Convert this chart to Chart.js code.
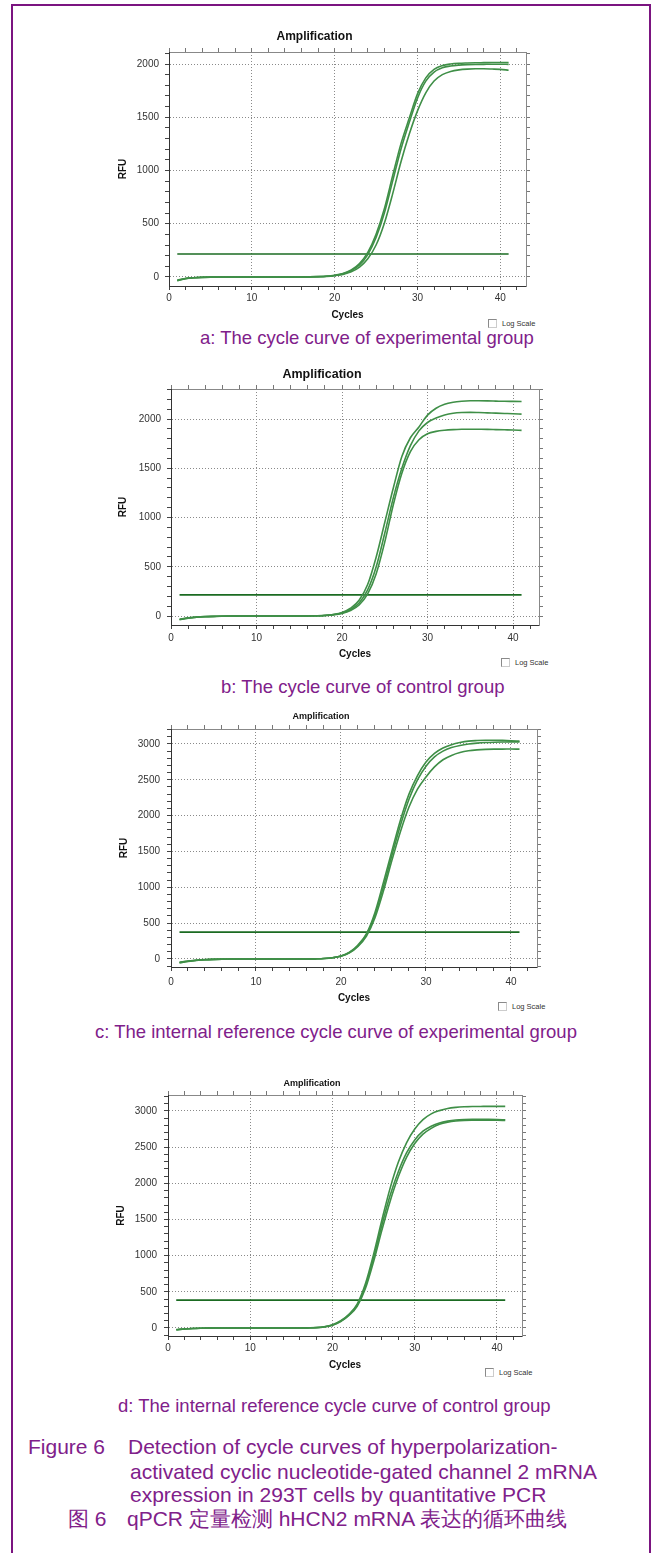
<!DOCTYPE html>
<html>
<head>
<meta charset="utf-8">
<script src="https://cdn.jsdelivr.net/npm/chart.js@4.4.0/dist/chart.umd.min.js"></script>
<style>
  html, body { margin: 0; padding: 0; background: #fff; }
  body { position: relative; width: 651px; height: 1553px; overflow: hidden; font-family: "Liberation Sans", Arial, sans-serif; }
  .frame { position: absolute; left: 11px; top: 4px; width: 636px; height: 1570px; border: 2px solid #7b1480; border-bottom: none; }
  canvas { position: absolute; }
  .cap { position: absolute; white-space: nowrap; color: #80208a; font-size: 18.5px; line-height: 22px; }
  .fig { position: absolute; white-space: nowrap; color: #80208a; font-size: 21px; line-height: 24px; }
  .log { position: absolute; white-space: nowrap; color: #333; font-size: 7.5px; line-height: 9px; }
  .log i { display: inline-block; width: 7px; height: 7px; border: 1px solid #8a8a8a; border-right-color: #ccc; border-bottom-color: #ccc; vertical-align: top; margin-right: 5px; }
</style>
</head>
<body>
<div class="frame"></div>

<div class="cap" style="left:200px; top:327px;">a: The cycle curve of experimental group</div>
<div class="cap" style="left:221px; top:676px;">b: The cycle curve of control group</div>
<div class="cap" style="left:95px; top:1021px;">c: The internal reference cycle curve of experimental group</div>
<div class="cap" style="left:118px; top:1395px;">d: The internal reference cycle curve of control group</div>

<div class="log" style="left:488px; top:319px;"><i></i>Log Scale</div>
<div class="log" style="left:501px; top:658px;"><i></i>Log Scale</div>
<div class="log" style="left:498px; top:1002px;"><i></i>Log Scale</div>
<div class="log" style="left:485px; top:1368px;"><i></i>Log Scale</div>

<div class="fig" style="left:28px; top:1435px;">Figure 6</div>
<div class="fig" style="left:128px; top:1435px;">Detection of cycle curves of hyperpolarization-</div>
<div class="fig" style="left:130px; top:1460px;">activated cyclic nucleotide-gated channel 2 mRNA</div>
<div class="fig" style="left:130px; top:1483px;">expression in 293T cells by quantitative PCR</div>
<div class="fig" style="left:68px; top:1507px;">图 6</div>
<div class="fig" style="left:127px; top:1507px;">qPCR 定量检测 hHCN2 mRNA 表达的循环曲线</div>

<script>
// cycle numbers (x axis)
const cycles = [1, 2, 3, 4, 5, 6, 7, 8, 9, 10, 11, 12, 13, 14, 15, 16, 17, 18, 19, 20,
    21, 22, 23, 24, 25, 26, 27, 28, 29, 30, 31, 32, 33, 34, 35, 36, 37, 38, 39, 40, 41];

// labelled ticks
const cycleLabels = [0, 10, 20, 30, 40];
const rfuLabels = [0, 500, 1000, 1500, 2000, 2500, 3000];

// a: experimental group (RFU)
const expA1 = [-35, -16, -8, -4, -2, -1, 0, 0, 0, 0, 0, 0, 0, 0, 0, 0, 1, 3, 7, 16,
    32, 65, 125, 230, 400, 640, 950, 1250, 1490, 1720, 1870, 1950, 1985, 2000, 2007, 2010, 2012, 2013, 2014, 2015, 2015];
const expA2 = [-33, -15, -7, -4, -2, -1, 0, 0, 0, 0, 0, 0, 0, 0, 0, 0, 1, 3, 6, 14,
    29, 58, 112, 210, 370, 600, 900, 1200, 1450, 1680, 1840, 1925, 1965, 1982, 1990, 1994, 1996, 1997, 1998, 1998, 1997];
const expA3 = [-30, -14, -7, -3, -1, 0, 0, 0, 0, 0, 0, 0, 0, 0, 0, 0, 1, 2, 5, 12,
    24, 48, 92, 170, 300, 505, 780, 1080, 1340, 1560, 1730, 1840, 1900, 1930, 1945, 1952, 1955, 1955, 1953, 1950, 1942];
const thresholdA = 215;

// b: control group (RFU)
const ctrlB1 = [-38, -22, -12, -7, -4, -2, -1, 0, 0, 0, 0, 0, 0, 0, 0, 1, 3, 7, 16, 36,
    80, 160, 320, 600, 950, 1300, 1620, 1810, 1920, 2040, 2110, 2150, 2170, 2180, 2185, 2185, 2184, 2182, 2180, 2179, 2178];
const ctrlB2 = [-35, -20, -11, -6, -3, -2, -1, 0, 0, 0, 0, 0, 0, 0, 0, 1, 3, 6, 14, 30,
    66, 132, 265, 500, 840, 1200, 1500, 1730, 1880, 1965, 2010, 2040, 2058, 2066, 2068, 2066, 2063, 2060, 2057, 2054, 2050];
const ctrlB3 = [-33, -18, -10, -5, -3, -1, 0, 0, 0, 0, 0, 0, 0, 0, 0, 1, 2, 5, 12, 26,
    56, 112, 225, 430, 750, 1130, 1450, 1670, 1790, 1850, 1875, 1887, 1893, 1896, 1897, 1896, 1895, 1893, 1891, 1889, 1885];
const thresholdB = 215;

// c: internal reference, experimental group (RFU)
const refExpC1 = [-55, -35, -20, -11, -6, -3, -1, 0, 0, 0, 0, 0, 0, 0, 0, 0, 2, 7, 18, 42,
    95, 195, 355, 650, 1070, 1510, 1940, 2300, 2560, 2750, 2870, 2945, 2990, 3020, 3040, 3048, 3052, 3052, 3050, 3046, 3040];
const refExpC2 = [-50, -32, -18, -10, -5, -2, -1, 0, 0, 0, 0, 0, 0, 0, 0, 0, 2, 6, 17, 40,
    90, 185, 340, 615, 1010, 1450, 1870, 2230, 2500, 2690, 2820, 2900, 2950, 2980, 3000, 3012, 3020, 3025, 3028, 3030, 3030];
const refExpC3 = [-46, -30, -17, -9, -5, -2, -1, 0, 0, 0, 0, 0, 0, 0, 0, 0, 2, 6, 16, 38,
    85, 175, 320, 575, 950, 1380, 1780, 2120, 2370, 2540, 2680, 2780, 2840, 2880, 2905, 2918, 2925, 2928, 2928, 2930, 2928];
const thresholdC = 375;

// d: internal reference, control group (RFU)
const refCtrlD1 = [-25, -15, -8, -4, -2, -1, 0, 0, 0, 0, 0, 0, 0, 0, 0, 0, 2, 6, 18, 45,
    100, 190, 330, 610, 1020, 1490, 1930, 2290, 2560, 2750, 2880, 2960, 3005, 3035, 3050, 3058, 3062, 3063, 3064, 3064, 3064];
const refCtrlD2 = [-24, -14, -7, -4, -2, -1, 0, 0, 0, 0, 0, 0, 0, 0, 0, 0, 2, 5, 16, 42,
    95, 182, 315, 580, 970, 1420, 1830, 2160, 2420, 2600, 2720, 2790, 2835, 2860, 2875, 2882, 2885, 2886, 2885, 2882, 2878];
const refCtrlD3 = [-22, -13, -7, -3, -2, -1, 0, 0, 0, 0, 0, 0, 0, 0, 0, 0, 1, 4, 14, 38,
    88, 172, 300, 545, 920, 1350, 1750, 2090, 2360, 2550, 2680, 2760, 2815, 2845, 2862, 2870, 2873, 2874, 2873, 2872, 2870];
const thresholdD = 385;

// layout of each panel on the page (plot box in page pixels)
const panels = [
    { plot: { l: 169, t: 52, r: 526, b: 286 }, titleY: 37, titleSize: 12, cyclesY: 315, rfuX: 123, xLabelY: 298, yLabelRight: 159,
      yMin: -85, yMax: 2113, xMax: 43.1, curves: [expA1, expA2, expA3], threshold: thresholdA },
    { plot: { l: 171, t: 389, r: 539, b: 625 }, titleY: 375, titleSize: 12.5, cyclesY: 654, rfuX: 123, xLabelY: 638, yLabelRight: 161,
      yMin: -91, yMax: 2305, xMax: 43.04, curves: [ctrlB1, ctrlB2, ctrlB3], threshold: thresholdB },
    { plot: { l: 171, t: 729, r: 537, b: 967 }, titleY: 717, titleSize: 9, cyclesY: 998, rfuX: 124, xLabelY: 982, yLabelRight: 160,
      yMin: -112, yMax: 3209, xMax: 43.06, curves: [refExpC1, refExpC2, refExpC3], threshold: thresholdC },
    { plot: { l: 168, t: 1095, r: 522, b: 1336 }, titleY: 1084, titleSize: 9, cyclesY: 1365, rfuX: 121, xLabelY: 1348, yLabelRight: 157,
      yMin: -111, yMax: 3221, xMax: 43.04, curves: [refCtrlD1, refCtrlD2, refCtrlD3], threshold: thresholdD }
];

const LEFT = 70, TOP = 32, BOTTOM = 38, RIGHT = 4, TICK = 4;
const X_MINOR = 2, Y_MINOR = 100;

Chart.defaults.font.family = '"Liberation Sans", Arial, sans-serif';

// minor ticks every `step`, labels only where the picture has them
function marcarTicks(step) {
    return function (scale) {
        const ticks = [];
        for (let v = Math.ceil(scale.min / step) * step; v <= scale.max; v += step) {
            ticks.push({ value: v });
        }
        scale.ticks = ticks;
    };
}

function dibujarPanel(p) {
    const canvas = document.createElement('canvas');
    const w = (p.plot.r - p.plot.l) + LEFT + RIGHT;
    const h = (p.plot.b - p.plot.t) + TOP + BOTTOM;
    const left = p.plot.l - LEFT;
    const top = p.plot.t - TOP;
    canvas.width = w;
    canvas.height = h;
    canvas.style.left = left + 'px';
    canvas.style.top = top + 'px';
    document.body.appendChild(canvas);

    // paddings so the texts land where they are in the picture
    const titleLh = p.titleSize * 1.2;
    const titleTop = (p.titleY - top) - titleLh / 2;
    const titleBottom = (TOP - TICK) - titleLh - titleTop;
    const cyclesPad = BOTTOM - 6 - (p.cyclesY - p.plot.b);
    const rfuPad = (p.rfuX - left) - 6;
    const xTickPad = (p.xLabelY - p.plot.b) - TICK - 6;
    const yTickPad = (p.plot.l - p.yLabelRight) - TICK;

    const datasets = p.curves.map(vals => ({
        data: cycles.map((c, i) => ({ x: c, y: vals[i] })),
        borderColor: '#3f8f47',
        borderWidth: 1.6,
        pointRadius: 0,
        cubicInterpolationMode: 'monotone',
        xAxisID: 'x',
        yAxisID: 'y'
    }));
    datasets.push({
        data: [{ x: cycles[0], y: p.threshold }, { x: cycles[cycles.length - 1], y: p.threshold }],
        borderColor: '#1b6b22',
        borderWidth: 1.6,
        pointRadius: 0,
        xAxisID: 'x',
        yAxisID: 'y'
    });

    new Chart(canvas, {
        type: 'line',
        data: { datasets: datasets },
        options: {
            responsive: false,
            animation: false,
            events: [],
            layout: { padding: 0 },
            plugins: {
                legend: { display: false },
                tooltip: { enabled: false },
                title: {
                    display: true,
                    text: 'Amplification',
                    color: '#111',
                    font: { size: p.titleSize, weight: 'bold' },
                    padding: { top: titleTop, bottom: titleBottom }
                }
            },
            scales: {
                x: {
                    type: 'linear', position: 'bottom', min: 0, max: p.xMax,
                    afterFit: s => { s.height = BOTTOM; },
                    afterBuildTicks: marcarTicks(X_MINOR),
                    ticks: {
                        autoSkip: false, maxRotation: 0,
                        padding: xTickPad, color: '#333', font: { size: 10 },
                        callback: v => (cycleLabels.includes(v) ? v : '')
                    },
                    grid: {
                        color: c => (c.tick && cycleLabels.includes(c.tick.value) ? '#8a8a8a' : 'transparent'),
                        tickColor: '#444', tickLength: TICK
                    },
                    border: { color: '#333', width: 1, dash: [1, 2] },
                    title: { display: true, text: 'Cycles', color: '#111', font: { size: 10, weight: 'bold' }, padding: { top: 0, bottom: cyclesPad } }
                },
                x2: {
                    type: 'linear', position: 'top', min: 0, max: p.xMax,
                    afterFit: s => { s.height = TICK; },
                    afterBuildTicks: marcarTicks(X_MINOR),
                    ticks: { display: false, autoSkip: false },
                    grid: { drawOnChartArea: false, tickColor: '#777', tickLength: TICK },
                    border: { color: '#888' }
                },
                y: {
                    type: 'linear', position: 'left', min: p.yMin, max: p.yMax,
                    afterFit: s => { s.width = LEFT; },
                    afterBuildTicks: marcarTicks(Y_MINOR),
                    ticks: {
                        autoSkip: false,
                        padding: yTickPad, color: '#333', font: { size: 10 },
                        callback: v => (rfuLabels.includes(v) ? v : '')
                    },
                    grid: {
                        color: c => (c.tick && rfuLabels.includes(c.tick.value) ? '#8a8a8a' : 'transparent'),
                        tickColor: '#444', tickLength: TICK
                    },
                    border: { color: '#333', width: 1, dash: [1, 2] },
                    title: { display: true, text: 'RFU', color: '#111', font: { size: 10, weight: 'bold' }, padding: { top: rfuPad, bottom: 0 } }
                },
                y2: {
                    type: 'linear', position: 'right', min: p.yMin, max: p.yMax,
                    afterFit: s => { s.width = RIGHT; },
                    afterBuildTicks: marcarTicks(Y_MINOR),
                    ticks: { display: false, autoSkip: false },
                    grid: { drawOnChartArea: false, tickColor: '#777', tickLength: TICK },
                    border: { color: '#888' }
                }
            }
        }
    });
}

panels.forEach(dibujarPanel);
</script>
</body>
</html>
